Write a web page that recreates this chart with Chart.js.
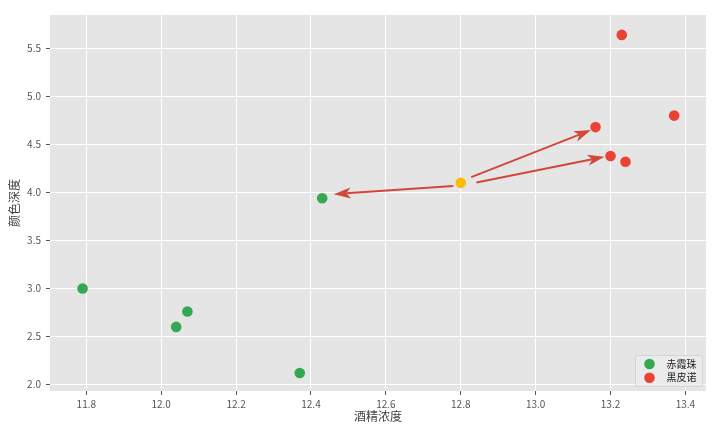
<!DOCTYPE html>
<html>
<head>
<meta charset="utf-8">
<script src="https://cdn.jsdelivr.net/npm/chart.js@4.4.0/dist/chart.umd.min.js"></script>
<style>
html, body { margin: 0; padding: 0; background: #fff; }
#wrap { width: 720px; height: 432px; }
</style>
</head>
<body>
<div id="wrap"><canvas id="wine"></canvas></div>
<script>
Chart.defaults.font.family = '"Noto Sans CJK SC", "DejaVu Sans", sans-serif';
Chart.defaults.color = '#555';

// data
const seriesLabels = ['赤霞珠', '黑皮诺'];
const cabernetX = [11.79, 12.04, 12.07, 12.37, 12.43];
const cabernetY = [3.00, 2.60, 2.76, 2.12, 3.94];
const pinotX = [13.23, 13.37, 13.16, 13.20, 13.24];
const pinotY = [5.64, 4.80, 4.68, 4.38, 4.32];
const newX = [12.80];
const newY = [4.10];

const xTicks = [11.8, 12.0, 12.2, 12.4, 12.6, 12.8, 13.0, 13.2, 13.4];
const yTicks = [2.0, 2.5, 3.0, 3.5, 4.0, 4.5, 5.0, 5.5];

// arrows from the new sample towards its nearest neighbours
const arrowFromX = [12.828, 12.842, 12.780];
const arrowFromY = [4.159, 4.104, 4.066];
const arrowToX = [13.148, 13.184, 12.461];
const arrowToY = [4.649, 4.371, 3.982];

const colors = ['#34a853', '#ea4335', '#fbbc05'];

const toPoints = (xs, ys) => xs.map((x, i) => ({ x: x, y: ys[i] }));

// grey panel behind the plot
const panelBg = {
    id: 'panelBg',
    beforeDraw(chart) {
        const a = chart.chartArea, ctx = chart.ctx;
        ctx.save();
        ctx.fillStyle = '#e5e5e5';
        ctx.fillRect(a.left, a.top, a.right - a.left, a.bottom - a.top);
        ctx.restore();
    }
};

// arrows
const arrows = {
    id: 'arrows',
    afterDatasetsDraw(chart) {
        const ctx = chart.ctx, sx = chart.scales.x, sy = chart.scales.y;
        ctx.save();
        ctx.strokeStyle = '#d2463b';
        ctx.fillStyle = '#d2463b';
        ctx.lineWidth = 2;
        for (let i = 0; i < arrowFromX.length; i++) {
            const x0 = sx.getPixelForValue(arrowFromX[i]), y0 = sy.getPixelForValue(arrowFromY[i]);
            const x1 = sx.getPixelForValue(arrowToX[i]), y1 = sy.getPixelForValue(arrowToY[i]);
            const ang = Math.atan2(y1 - y0, x1 - x0);
            const cs = Math.cos(ang), sn = Math.sin(ang);
            const headLen = 17, headW = 5.5, notch = 4.5;
            const bx = x1 - headLen * cs, by = y1 - headLen * sn;
            ctx.beginPath();
            ctx.moveTo(x0, y0);
            ctx.lineTo(bx + notch * cs, by + notch * sn);
            ctx.stroke();
            const nx = -sn, ny = cs;
            ctx.beginPath();
            ctx.moveTo(x1, y1);
            ctx.lineTo(bx + nx * headW, by + ny * headW);
            ctx.lineTo(bx + notch * cs, by + notch * sn);
            ctx.lineTo(bx - nx * headW, by - ny * headW);
            ctx.closePath();
            ctx.fill();
        }
        ctx.restore();
    }
};

// legend box in the lower right corner of the panel
const cornerLegend = {
    id: 'cornerLegend',
    afterDraw(chart) {
        const a = chart.chartArea, ctx = chart.ctx;
        const w = 67, h = 31;
        const left = a.right - 4 - w, top = a.bottom - 5 - h;
        ctx.save();
        ctx.fillStyle = 'rgba(236,236,236,0.8)';
        ctx.strokeStyle = '#d4d4d4';
        ctx.lineWidth = 1;
        ctx.beginPath();
        ctx.roundRect(left + 0.5, top + 0.5, w, h, 2);
        ctx.fill();
        ctx.stroke();
        ctx.font = '10px "Noto Sans CJK SC", sans-serif';
        ctx.textBaseline = 'middle';
        seriesLabels.forEach((lab, i) => {
            const cy = top + 9 + i * 13.7;
            ctx.fillStyle = colors[i];
            ctx.beginPath();
            ctx.arc(left + 14.5, cy, 5.3, 0, Math.PI * 2);
            ctx.fill();
            ctx.fillStyle = '#222';
            ctx.fillText(lab, left + 31.5, cy);
        });
        ctx.restore();
    }
};

const dotStyle = (c) => ({
    backgroundColor: c,
    borderColor: c,
    pointRadius: 5.3,
    pointHoverRadius: 5.3,
    borderWidth: 0
});

const wineConfig = {
    type: 'scatter',
    data: {
        datasets: [
            Object.assign({ label: seriesLabels[0], data: toPoints(cabernetX, cabernetY) }, dotStyle(colors[0])),
            Object.assign({ label: seriesLabels[1], data: toPoints(pinotX, pinotY) }, dotStyle(colors[1])),
            Object.assign({ label: '', data: toPoints(newX, newY) }, dotStyle(colors[2]))
        ]
    },
    options: {
        responsive: true,
        maintainAspectRatio: false,
        animation: false,
        layout: { padding: { top: 15, right: 14, left: 0, bottom: 0 } },
        plugins: {
            legend: { display: false },
            tooltip: { enabled: false }
        },
        scales: {
            x: {
                type: 'linear',
                min: 11.703,
                max: 13.455,
                afterBuildTicks: (s) => { s.ticks = xTicks.map(v => ({ value: v })); },
                afterFit: (s) => { s.height = 41; },
                border: { display: false },
                grid: { color: '#ffffff', lineWidth: 1, tickColor: '#555', tickLength: 4 },
                ticks: { callback: (v) => v.toFixed(1), font: { size: 10 }, color: '#555', padding: 3, maxRotation: 0 },
                title: { display: true, text: '酒精浓度', font: { size: 12 }, color: '#444', padding: { top: 0, bottom: 8 } }
            },
            y: {
                type: 'linear',
                min: 1.933,
                max: 5.847,
                afterBuildTicks: (s) => { s.ticks = yTicks.map(v => ({ value: v })); },
                afterFit: (s) => { s.width = 50; },
                border: { display: false },
                grid: { color: '#ffffff', lineWidth: 1, tickColor: '#555', tickLength: 4 },
                ticks: { callback: (v) => v.toFixed(1), font: { size: 10 }, color: '#555', padding: 5 },
                title: { display: true, text: '颜色深度', font: { size: 12 }, color: '#444', padding: { top: 7, bottom: 0 } }
            }
        }
    },
    plugins: [panelBg, arrows, cornerLegend]
};

const wineChart = new Chart(document.getElementById('wine'), wineConfig);
</script>
</body>
</html>
